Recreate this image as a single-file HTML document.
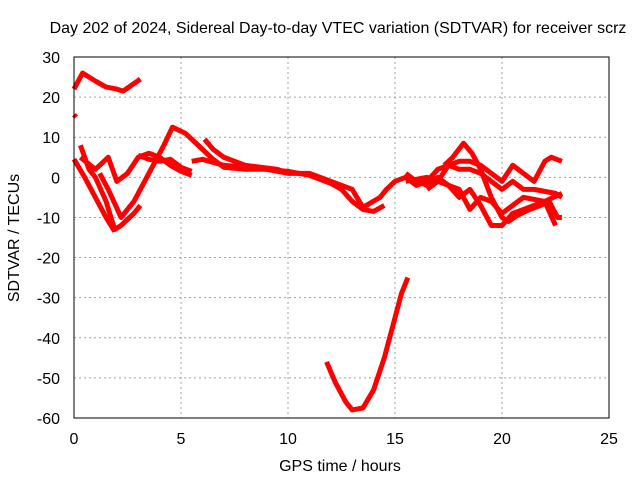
<!DOCTYPE html>
<html><head><meta charset="utf-8"><style>
body{margin:0;background:#fff;}
svg{display:block;font-family:"Liberation Sans",sans-serif;font-size:16px;}
</style></head><body>
<svg id="chart" width="640" height="480">
<text x="338" y="33" text-anchor="middle">Day 202 of 2024, Sidereal Day-to-day VTEC variation (SDTVAR) for receiver scrz</text>
<g id="grid"></g>
<g id="series"></g>
<rect x="74" y="57" width="535" height="361" fill="none" stroke="#000" stroke-width="1"/>
<g id="ticks"></g>
<text x="340" y="471" text-anchor="middle">GPS time / hours</text>
<text x="0" y="0" transform="translate(19,238) rotate(-90)" text-anchor="middle">SDTVAR / TECUs</text>
</svg>
<script>
const xTicks=[0,5,10,15,20,25];
const yTicks=[30,20,10,0,-10,-20,-30,-40,-50,-60];
const track1=[[0,22],[0.4,26],[1,24],[1.5,22.5],[2,22],[2.3,21.5],[2.7,23],[3.1,24.5]];
const track2=[[0,15.6],[0.1,15]];
const track3=[[0.3,8],[0.7,2],[1,0],[1.5,-6],[1.9,-13],[2.2,-12],[2.8,-9],[3.1,-7]];
const track4=[[0,4.5],[0.5,0],[1,-5],[1.5,-10],[1.9,-13.5]];
const track5=[[0.3,5],[1,2],[1.6,5],[2,-1],[2.5,1],[3,5],[3.5,6],[4,5],[4.5,3],[5,1.5],[5.5,0.5]];
const track6=[[1.2,1],[1.6,-3],[2.2,-10],[2.8,-6],[3.5,1],[4.2,8],[4.6,12.5],[5.2,11],[5.8,8],[6.5,4.5],[7,2.5],[8,2],[9,2],[10,1.5],[11,0.5],[12,-1.5],[12.5,-3],[13,-6],[13.5,-8],[14,-8.5],[14.5,-7]];
const track7=[[3,5.5],[3.5,4.5],[4,4],[4.5,4.5],[5,2.5],[5.5,1.5]];
const track8=[[5.5,4],[6,4.5],[7,3],[8,2.5],[9,2],[10,1]];
const track9=[[6.1,9.5],[6.5,7],[7,5],[8,3],[9.5,2],[10,1],[11,1],[12,-1],[13,-3],[13.5,-7.5],[14.3,-5],[14.6,-3],[15,-1],[15.5,0],[16,-2],[16.5,-1],[17,2],[17.5,3],[18,2],[18.5,2],[19,1],[19.5,-1],[20,-3],[20.5,-1],[21,-3],[21.5,-3],[22,-3.5],[22.5,-4],[22.8,-5]];
const track10=[[17.3,3],[17.7,5],[18.2,8.5],[18.6,6],[19,2],[19.5,-5],[20,-10],[20.3,-11],[20.7,-9.5],[21.3,-8],[21.8,-7],[22.2,-6],[22.6,-10],[22.8,-10]];
const track11=[[15.5,1],[16,-1],[16.5,-2],[17,0],[17.5,-2],[18,-5],[18.5,-3],[19,-7],[19.5,-12],[20,-12],[20.5,-9],[21,-8],[22,-6],[22.8,-4]];
const track12=[[15.5,-1],[16.5,0],[17,-1],[17.5,3],[18,4],[18.5,4],[19,3],[20,-1],[20.5,3],[21,1],[21.5,-1],[22,4],[22.3,5],[22.8,4]];
const track13=[[16.5,-3],[17,-1],[18,-3],[18.5,-8],[19,-5],[19.5,-6],[20,-9],[21,-5],[22,-6],[22.5,-12]];
const track14=[[11.8,-46],[12.2,-51],[12.7,-56],[13,-58],[13.5,-57.5],[14,-53],[14.5,-45],[15,-35],[15.3,-29],[15.6,-25]];
const tracks=[track1,track2,track3,track4,track5,track6,track7,track8,track9,track10,track11,track12,track13,track14];
const NS='http://www.w3.org/2000/svg';
const X=v=>74+(v-0)*535/25;
const Y=v=>57+(30-v)*361/90;
const grid=document.getElementById('grid'),ticks=document.getElementById('ticks'),ser=document.getElementById('series');
function mk(tag,attrs,parent){const e=document.createElementNS(NS,tag);for(const k in attrs)e.setAttribute(k,attrs[k]);parent.appendChild(e);return e;}
xTicks.forEach(t=>{
  if(t>0&&t<25){const g=mk('line',{x1:X(t),x2:X(t),y1:57,y2:418,stroke:'#a0a0a0','stroke-dasharray':'2,3'},grid);
  
  }
  const l=mk('text',{x:X(t),y:444,'text-anchor':'middle'},ticks);l.textContent=t;
  
  
});
yTicks.forEach(t=>{
  if(t<30&&t>-60){const g=mk('line',{x1:74,x2:609,y1:Y(t),y2:Y(t),stroke:'#a0a0a0','stroke-dasharray':'2,3'},grid);
  
  }
  const l=mk('text',{x:60,y:Y(t)+6,'text-anchor':'end'},ticks);l.textContent=t;
  
  
});
tracks.forEach((tr,i)=>{
  const p=mk('polyline',{points:tr.map(d=>X(d[0])+','+Y(d[1])).join(' '),fill:'none',stroke:'#ff0000','stroke-width':5,'stroke-linejoin':'round'},ser);
  
  
});
</script>
</body></html>
